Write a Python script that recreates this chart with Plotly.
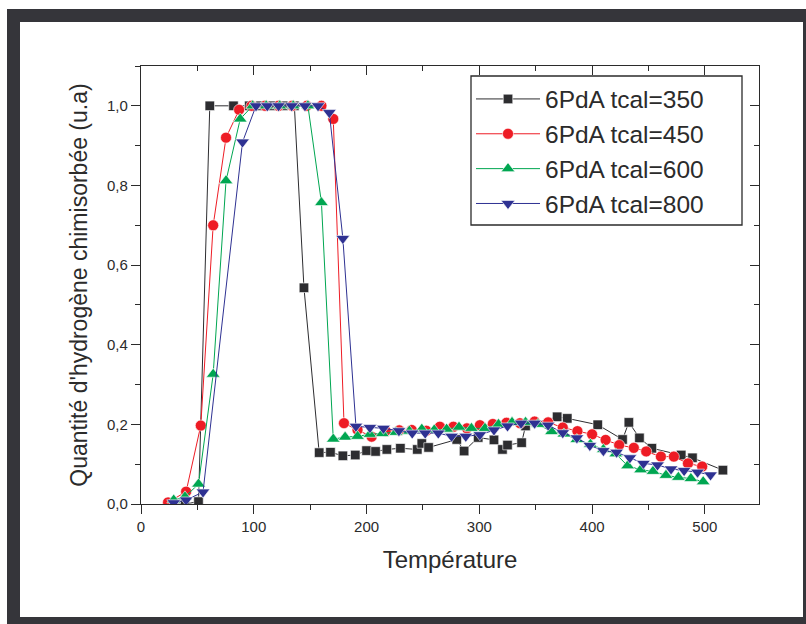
import plotly.graph_objects as go

# ---------------- data ----------------
names = ["6PdA tcal=350", "6PdA tcal=450", "6PdA tcal=600", "6PdA tcal=800"]

black_x = [28, 39, 51, 61, 82, 96, 106, 116, 126, 136, 144.5, 158, 168, 179, 190, 200, 208, 218, 230, 245, 249, 255,
           280, 286.5, 299, 313, 320.5, 325, 337.5, 341, 369, 378, 405, 427, 432.6, 442, 453, 479, 489, 516]
black_y = [0.0, 0.0, 0.006, 1.0, 1.0, 1.0, 1.0, 1.0, 1.0, 1.0, 0.543, 0.129, 0.13, 0.121, 0.123, 0.134, 0.132, 0.137,
           0.14, 0.137, 0.152, 0.142, 0.162, 0.133, 0.167, 0.161, 0.137, 0.148, 0.154, 0.196, 0.219, 0.215, 0.199,
           0.162, 0.205, 0.166, 0.14, 0.123, 0.116, 0.085]

red_x = [24, 40, 53, 64, 75.4, 87, 98, 110, 122, 134, 147, 160, 170.5, 180, 192, 204.5, 217, 229, 240, 253, 265, 277,
         289, 300.5, 312, 324, 336, 349, 361, 374, 387, 400, 412, 424, 437, 448, 461, 472.5, 485, 497.6]
red_y = [0.004, 0.031, 0.197, 0.70, 0.92, 0.99, 1.0, 1.0, 1.0, 1.0, 1.0, 1.0, 0.967, 0.203, 0.186, 0.169, 0.183,
         0.185, 0.186, 0.184, 0.194, 0.194, 0.19, 0.198, 0.201, 0.204, 0.203, 0.207, 0.205, 0.192, 0.183, 0.175,
         0.161, 0.148, 0.141, 0.132, 0.119, 0.119, 0.102, 0.094]

green_x = [29, 39, 51, 64, 75.4, 88, 99, 111, 123, 135, 148, 160, 170.5, 181, 192, 203, 214, 226, 238, 249, 260, 271,
           282, 293, 305, 317, 329, 341, 352, 364, 375, 386.5, 398.5, 410, 421, 431.5, 443, 454, 465.5, 476.5,
           487.6, 498.5]
green_y = [0.01, 0.018, 0.05, 0.326, 0.812, 0.967, 1.0, 1.0, 1.0, 1.0, 1.0, 0.757, 0.163, 0.168, 0.17, 0.175, 0.177,
           0.18, 0.183, 0.188, 0.186, 0.188, 0.193, 0.19, 0.19, 0.2, 0.205, 0.205, 0.2, 0.182, 0.176, 0.162, 0.15,
           0.137, 0.126, 0.096, 0.086, 0.082, 0.072, 0.067, 0.064, 0.056]

blue_x = [29, 40, 55, 90, 102, 112, 122, 133.6, 145.4, 157, 167, 179, 190.6, 203, 215, 228.7, 240.5, 252, 263.6,
          275.4, 288, 300.5, 313, 325, 337, 349, 361, 374, 386.5, 398, 410, 421.7, 433.5, 445.5, 458, 470, 481.6,
          493.5, 505]
blue_y = [0.003, 0.01, 0.03, 0.909, 1.0, 1.0, 1.0, 1.0, 1.0, 1.0, 0.983, 0.667, 0.195, 0.192, 0.19, 0.184, 0.178,
          0.178, 0.178, 0.17, 0.17, 0.174, 0.186, 0.196, 0.203, 0.203, 0.198, 0.179, 0.166, 0.147, 0.134, 0.13,
          0.116, 0.102, 0.098, 0.088, 0.084, 0.08, 0.073]

x_ticks = [0, 100, 200, 300, 400, 500]
y_ticks = [0.0, 0.2, 0.4, 0.6, 0.8, 1.0]

# ---------------- styling ----------------
colors = ["#2d2d30", "#ee1c25", "#00a651", "#2e3192"]
symbols = ["square", "circle", "triangle-up", "triangle-down"]
msizes = [9.5, 11, 12, 12]
FONT = "Liberation Sans, Arial, Helvetica, sans-serif"
AX = "#2b2b2b"

W, H = 806, 624
L, R, T, B = 141, 47, 66, 120
pw, ph = W - L - R, H - T - B


def px(X):
    return (X - L) / pw


def py(Y):
    return (H - B - Y) / ph


fig = go.Figure()
series = [(black_x, black_y), (red_x, red_y), (green_x, green_y), (blue_x, blue_y)]
for (xs, ys), n, c, s, ms in zip(series, names, colors, symbols, msizes):
    fig.add_trace(go.Scatter(
        x=xs, y=ys, name=n, mode="lines+markers",
        line=dict(color=c, width=1),
        marker=dict(symbol=s, size=ms, color=c, line=dict(color="white", width=0.6)),
    ))

# dummy trace for mirrored (inside) tick axes
fig.add_trace(go.Scatter(x=[None], y=[None], xaxis="x2", yaxis="y2", showlegend=False, hoverinfo="skip"))

xr = [0, 548]
yr = [0, 1.1]

fig.update_layout(
    width=W, height=H,
    margin=dict(l=L, r=R, t=T, b=B),
    paper_bgcolor="white", plot_bgcolor="white",
    separators=",.",
    font=dict(family=FONT, color=AX, size=15),
    showlegend=True,
    xaxis=dict(range=xr, tickvals=x_ticks, ticks="outside", ticklen=9, tickwidth=1.3, tickcolor=AX,
               showline=True, linecolor=AX, linewidth=1.3, showgrid=False, zeroline=False,
               minor=dict(dtick=50, ticks="outside", ticklen=5, tickwidth=1.3, tickcolor=AX),
               tickfont=dict(size=15, family=FONT, color=AX),
               title=dict(text="Température", font=dict(size=24, family=FONT, color=AX), standoff=17)),
    yaxis=dict(range=yr, tickvals=y_ticks, tickformat=".1f", ticks="outside", ticklen=9, tickwidth=1.3,
               tickcolor=AX, showline=True, linecolor=AX, linewidth=1.3, showgrid=False, zeroline=False,
               minor=dict(dtick=0.1, ticks="outside", ticklen=5, tickwidth=1.3, tickcolor=AX),
               tickfont=dict(size=15, family=FONT, color=AX),
               title=dict(text="Quantité d'hydrogène chimisorbée (u.a)", font=dict(size=23, family=FONT, color=AX),
                          standoff=12)),
    xaxis2=dict(range=xr, overlaying="x", side="top", anchor="y2", tickvals=x_ticks, ticks="inside", ticklen=9,
                tickwidth=1.3, tickcolor=AX, showticklabels=False, showline=True, linecolor=AX, linewidth=1.3,
                showgrid=False, zeroline=False,
                minor=dict(dtick=50, ticks="inside", ticklen=5, tickwidth=1.3, tickcolor=AX)),
    yaxis2=dict(range=yr, overlaying="y", side="right", anchor="x2", tickvals=y_ticks, ticks="inside", ticklen=9,
                tickwidth=1.3, tickcolor=AX, showticklabels=False, showline=True, linecolor=AX, linewidth=1.3,
                showgrid=False, zeroline=False,
                minor=dict(dtick=0.1, ticks="inside", ticklen=5, tickwidth=1.3, tickcolor=AX)),
    legend=dict(x=px(471), y=py(76.5), xanchor="left", yanchor="top",
                bgcolor="rgba(0,0,0,0)", borderwidth=0,
                font=dict(size=24.5, family=FONT, color=AX), itemwidth=64),
)

# legend box (drawn behind the legend entries)
fig.add_shape(type="rect", xref="paper", yref="paper", x0=px(471), x1=px(742), y0=py(225), y1=py(76),
              fillcolor="white", line=dict(color=AX, width=1.3), layer="above")

# dark frame around the picture (pixel -> paper coords)
frame_col = "#35353a"
for x0, y0, x1, y1 in [(7, 9, 806, 22), (7, 9, 20, 624), (7, 617, 806, 624), (803, 9, 806, 624)]:
    fig.add_shape(type="rect", xref="paper", yref="paper", x0=px(x0), x1=px(x1), y0=py(y0), y1=py(y1),
                  fillcolor=frame_col, line=dict(width=0), layer="above")

fig.write_html("out.html")
